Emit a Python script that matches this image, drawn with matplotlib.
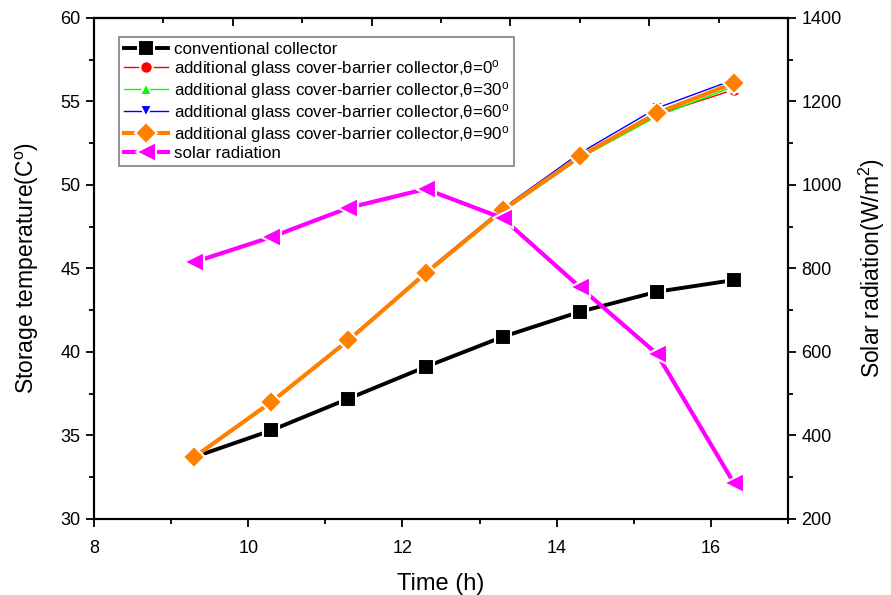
import numpy as np
import matplotlib.pyplot as plt
from matplotlib.ticker import MultipleLocator

plt.rcParams['font.family'] = ['Liberation Sans', 'DejaVu Sans']
plt.rcParams['mathtext.fontset'] = 'custom'
plt.rcParams['mathtext.rm'] = 'Liberation Sans'
plt.rcParams['mathtext.it'] = 'Liberation Sans:italic'

# data
time_h = [9.3, 10.3, 11.3, 12.3, 13.3, 14.3, 15.3, 16.3]
conventional = [33.7, 35.3, 37.2, 39.1, 40.9, 42.4, 43.6, 44.3]
theta_0 = [33.7, 37.0, 40.7, 44.7, 48.4, 51.6, 54.2, 55.7]
theta_30 = [33.7, 37.0, 40.7, 44.7, 48.4, 51.6, 54.1, 55.9]
theta_60 = [33.7, 37.0, 40.7, 44.8, 48.6, 51.9, 54.6, 56.3]
theta_90 = [33.7, 37.0, 40.7, 44.7, 48.5, 51.7, 54.3, 56.1]
solar = [815, 875, 945, 990, 920, 755, 595, 285]

lab = 'additional glass cover-barrier collector,\u03b8=%d$^\\mathrm{o}$'

fig = plt.figure(figsize=(8.91, 5.95), dpi=100)
ax = fig.add_axes([0.1055, 0.128, 0.779, 0.842])
ax2 = ax.twinx()

gap = dict(markeredgecolor='white', markeredgewidth=1.5)
h1, = ax.plot(time_h, conventional, color='black', lw=2.8, marker='s', ms=11,
              markerfacecolor='black', label='conventional collector', **gap)
h2, = ax.plot(time_h, theta_0, color='red', lw=1, marker='o', ms=9,
              markerfacecolor='red', label=lab % 0, **gap)
h3, = ax.plot(time_h, theta_30, color='#00ff00', lw=1, marker='^', ms=9,
              markerfacecolor='#00ff00', label=lab % 30, **gap)
h4, = ax.plot(time_h, theta_60, color='blue', lw=1, marker='v', ms=9,
              markerfacecolor='blue', label=lab % 60, **gap)
h5, = ax.plot(time_h, theta_90, color='#ff8000', lw=3, marker='D', ms=11,
              markerfacecolor='#ff8000', label=lab % 90, **gap)
h6, = ax2.plot(time_h, solar, color='#ff00ff', lw=3, marker='<', ms=14,
               markerfacecolor='#ff00ff', label='solar radiation', **gap)

ax.set_xlim(8, 17)
ax.set_ylim(30, 60)
ax2.set_ylim(200, 1400)

ax.xaxis.set_major_locator(MultipleLocator(2))
ax.xaxis.set_minor_locator(MultipleLocator(1))
ax.yaxis.set_major_locator(MultipleLocator(5))
ax.yaxis.set_minor_locator(MultipleLocator(2.5))
ax2.yaxis.set_major_locator(MultipleLocator(200))
ax2.yaxis.set_minor_locator(MultipleLocator(100))

ax.tick_params(which='both', direction='out', width=1.3, labelsize=13, colors='black')
ax.tick_params(which='major', length=6)
ax.tick_params(which='minor', length=3.5)
ax.tick_params(axis='x', pad=9)
ax2.tick_params(which='both', direction='out', width=1.3, labelsize=13)
ax2.tick_params(which='major', length=6)
ax2.tick_params(which='minor', length=3.5)

# top axis: inward ticks only, Origin style
top = ax.secondary_xaxis('top')
top_ticks = np.linspace(8, 17, 11)
top.set_xticks(top_ticks[::2])
top.set_xticks(top_ticks[1::2], minor=True)
top.set_xticklabels([])
top.tick_params(which='both', direction='in', width=1.3)
top.tick_params(which='major', length=6)
top.tick_params(which='minor', length=3.5)

for a in (ax, ax2):
    for s in a.spines.values():
        s.set_linewidth(1.5)
top.spines['top'].set_linewidth(1.5)

ax.set_xlabel('Time (h)', fontsize=17, labelpad=12)
ax.set_ylabel('Storage temperature(C$^\\mathrm{o}$)', fontsize=16.5, labelpad=14)
ax2.set_ylabel('Solar radiation(W/m$^\\mathrm{2}$)', fontsize=16.5, labelpad=11)

leg = ax2.legend(handles=[h1, h2, h3, h4, h5, h6], loc='upper left',
                 bbox_to_anchor=(0.036, 0.962), borderaxespad=0, fontsize=12.2,
                 handlelength=2.6, labelspacing=0.06, handletextpad=0.35,
                 borderpad=0.3, fancybox=False, framealpha=1)
leg.get_frame().set_edgecolor('#808080')
leg.get_frame().set_linewidth(1.2)

fig.savefig('out.png', dpi=100)
